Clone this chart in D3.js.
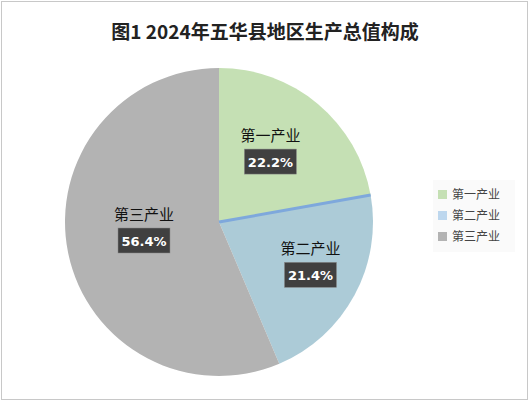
<!DOCTYPE html>
<html><head><meta charset="utf-8">
<script src="https://cdn.jsdelivr.net/npm/d3@7"></script>
<style>body{margin:0;background:#fff}</style>
</head><body>
<script>
var categories = ["第一产业", "第二产业", "第三产业"];
var shares = [22.2, 21.4, 56.4];
var sliceColors = ["#c5e0b4", "#accbd7", "#b3b3b3"];
var legendColors = ["#c5e0b4", "#bdd7ee", "#b3b3b3"];

var width = 530, height = 403;
var svg = d3.select("body").append("svg").attr("width", width).attr("height", height)
    .style("font-family", "'Noto Sans CJK SC', sans-serif");

svg.append("rect").attr("x", 1.5).attr("y", 1.5).attr("width", width - 4).attr("height", height - 5)
    .attr("fill", "#fff").attr("stroke", "#c8c8c8");

svg.append("text").attr("x", 265).attr("y", 39).attr("text-anchor", "middle")
    .attr("font-size", 19).attr("font-weight", "bold").attr("fill", "#222")
    .text("图1 2024年五华县地区生产总值构成");

var cx = 219, cy = 222, r = 154;
var g = svg.append("g").attr("transform", "translate(" + cx + "," + cy + ")");
var pie = d3.pie().sort(null).value(function(d){ return d; });
var arcs = pie(shares);
var arc = d3.arc().innerRadius(0).outerRadius(r);

g.selectAll("path.slice").data(arcs).enter().append("path")
    .attr("class", "slice")
    .attr("d", arc)
    .attr("fill", function(d, i){ return sliceColors[i]; });

// blue edge between first and second slice
var a = arcs[0].endAngle;
g.append("line").attr("x1", 0).attr("y1", 0)
    .attr("x2", r * Math.sin(a)).attr("y2", -r * Math.cos(a))
    .attr("stroke", "#7ea8dc").attr("stroke-width", 3);

// label nudges (reference placement)
var nudges = [[-3, -14], [17, -6], [0, 10]];
var labelArc = d3.arc().innerRadius(r * 0.55).outerRadius(r * 0.55);
arcs.forEach(function(d, i){
    var p = labelArc.centroid(d);
    if (i === 2) { p = [-75, -10]; }
    p = [p[0] + nudges[i][0], p[1] + nudges[i][1]];
    var lg = g.append("g").attr("transform", "translate(" + p[0] + "," + p[1] + ")");
    lg.append("text").attr("text-anchor", "middle").attr("y", -2)
        .attr("font-size", 15).attr("fill", "#111").text(categories[i]);
    lg.append("rect").attr("x", -26).attr("y", 6).attr("width", 52).attr("height", 25)
        .attr("fill", "#404040").attr("stroke", "#888").attr("stroke-width", 0.5);
    lg.append("text").attr("text-anchor", "middle").attr("y", 24)
        .attr("font-size", 13).attr("font-weight", "bold").attr("fill", "#fff")
        .attr("font-family", "'DejaVu Sans', sans-serif")
        .text(shares[i].toFixed(1) + "%");
});

var leg = svg.append("g").attr("transform", "translate(433,180)");
leg.append("rect").attr("width", 82).attr("height", 72).attr("fill", "#fafafa");
categories.forEach(function(c, i){
    leg.append("rect").attr("x", 5).attr("y", 10 + i * 21).attr("width", 9).attr("height", 9)
        .attr("fill", legendColors[i]);
    leg.append("text").attr("x", 19).attr("y", 19 + i * 21).attr("font-size", 12)
        .attr("fill", "#444").text(c);
});
</script>
</body></html>
